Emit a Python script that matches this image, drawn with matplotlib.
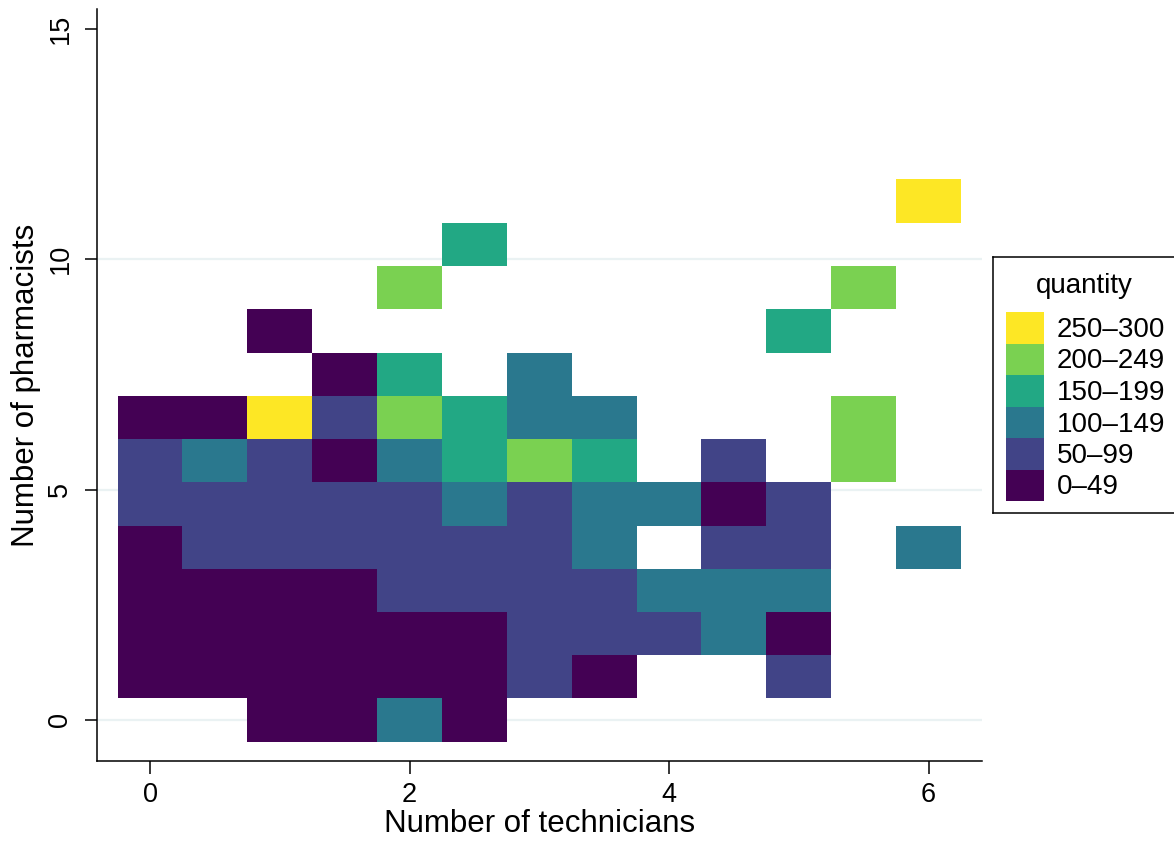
import numpy as np
import matplotlib
matplotlib.use("Agg")
import matplotlib.pyplot as plt
from matplotlib.colors import ListedColormap, BoundaryNorm
from matplotlib.patches import Rectangle

plt.rcParams['font.family'] = ['Liberation Sans', 'DejaVu Sans']

# bin centres
technicians = [0.0, 0.5, 1.0, 1.5, 2.0, 2.5, 3.0, 3.5, 4.0, 4.5, 5.0, 5.5, 6.0]
pharmacists = [0.00, 0.94, 1.88, 2.81, 3.75, 4.69, 5.63, 6.57, 7.50, 8.44, 9.38, 10.32, 11.26]

quantity_labels = ["0\u201349", "50\u201399", "100\u2013149", "150\u2013199", "200\u2013249", "250\u2013300"]
quantity_colors = ["#440154", "#414487", "#2A788E", "#22A884", "#7AD151", "#FDE725"]

# quantity class per cell (index into quantity_labels), rows bottom -> top, None = no data
N = None
quantity_class = [
    [N, N, 0, 0, 2, 0, N, N, N, N, N, N, N],
    [0, 0, 0, 0, 0, 0, 1, 0, N, N, 1, N, N],
    [0, 0, 0, 0, 0, 0, 1, 1, 1, 2, 0, N, N],
    [0, 0, 0, 0, 1, 1, 1, 1, 2, 2, 2, N, N],
    [0, 1, 1, 1, 1, 1, 1, 2, N, 1, 1, N, 2],
    [1, 1, 1, 1, 1, 2, 1, 2, 2, 0, 1, N, N],
    [1, 2, 1, 0, 2, 3, 4, 3, N, 1, N, 4, N],
    [0, 0, 5, 1, 4, 3, 2, 2, N, N, N, 4, N],
    [N, N, N, 0, 3, N, 2, N, N, N, N, N, N],
    [N, N, 0, N, N, N, N, N, N, N, 3, N, N],
    [N, N, N, N, 4, N, N, N, N, N, N, 4, N],
    [N, N, N, N, N, 3, N, N, N, N, N, N, N],
    [N, N, N, N, N, N, N, N, N, N, N, N, 5],
]

grid = np.ma.masked_invalid(np.array(
    [[np.nan if v is None else v for v in row] for row in quantity_class], dtype=float))

xc = np.array(technicians)
yc = np.array(pharmacists)
x_edges = np.concatenate([[xc[0] - (xc[1] - xc[0]) / 2], (xc[:-1] + xc[1:]) / 2, [xc[-1] + (xc[-1] - xc[-2]) / 2]])
y_edges = np.concatenate([[yc[0] - (yc[1] - yc[0]) / 2], (yc[:-1] + yc[1:]) / 2, [yc[-1] + (yc[-1] - yc[-2]) / 2]])

cmap = ListedColormap(quantity_colors)
norm = BoundaryNorm(np.arange(-0.5, len(quantity_colors) + 0.5, 1), cmap.N)

fig = plt.figure(figsize=(11.74, 8.44), dpi=100)
ax = fig.add_axes([97 / 1174, 83 / 844, 885 / 1174, 752 / 844])

ax.pcolormesh(x_edges, y_edges, grid, cmap=cmap, norm=norm, zorder=2)

ax.set_xlim(-0.4085, 6.412)
ax.set_ylim(-0.89, 15.43)
ax.set_xticks([0, 2, 4, 6])
ax.set_yticks([0, 5, 10, 15])
ax.set_axisbelow(True)
ax.yaxis.grid(True, color='#EAF2F3', linewidth=1.6)
ax.yaxis.get_gridlines()[-1].set_visible(False)

for side in ['top', 'right']:
    ax.spines[side].set_visible(False)
for side in ['left', 'bottom']:
    ax.spines[side].set_linewidth(1.1)

ax.tick_params(direction='out', length=9, width=1.1, labelsize=19.5)
ax.tick_params(axis='x', pad=6)
ax.tick_params(axis='y', pad=8)
for lab in ax.get_yticklabels():
    lab.set_rotation(90)
    lab.set_va('center')

ax.set_xlabel('Number of technicians', fontsize=22.5, labelpad=0.5)
ax.set_ylabel('Number of pharmacists', fontsize=22.5, labelpad=4.8)

# legend box (drawn by hand so the keys stack without gaps)
lg = fig.add_axes([993 / 1174, (844 - 513) / 844, 183 / 1174, 256 / 844])
lg.set_xlim(0, 183)
lg.set_ylim(256, 0)
lg.set_xticks([])
lg.set_yticks([])
for s in lg.spines.values():
    s.set_linewidth(1.1)
lg.text(91.5, 36, 'quantity', ha='center', va='baseline', fontsize=20)
for i, (c, l) in enumerate(zip(quantity_colors[::-1], quantity_labels[::-1])):
    top = 55 + i * 31.5
    lg.add_patch(Rectangle((13, top), 38, 31.5, facecolor=c, edgecolor='none'))
    lg.text(64, top + 25, l, ha='left', va='baseline', fontsize=20)

fig.savefig('out.png', dpi=100)
